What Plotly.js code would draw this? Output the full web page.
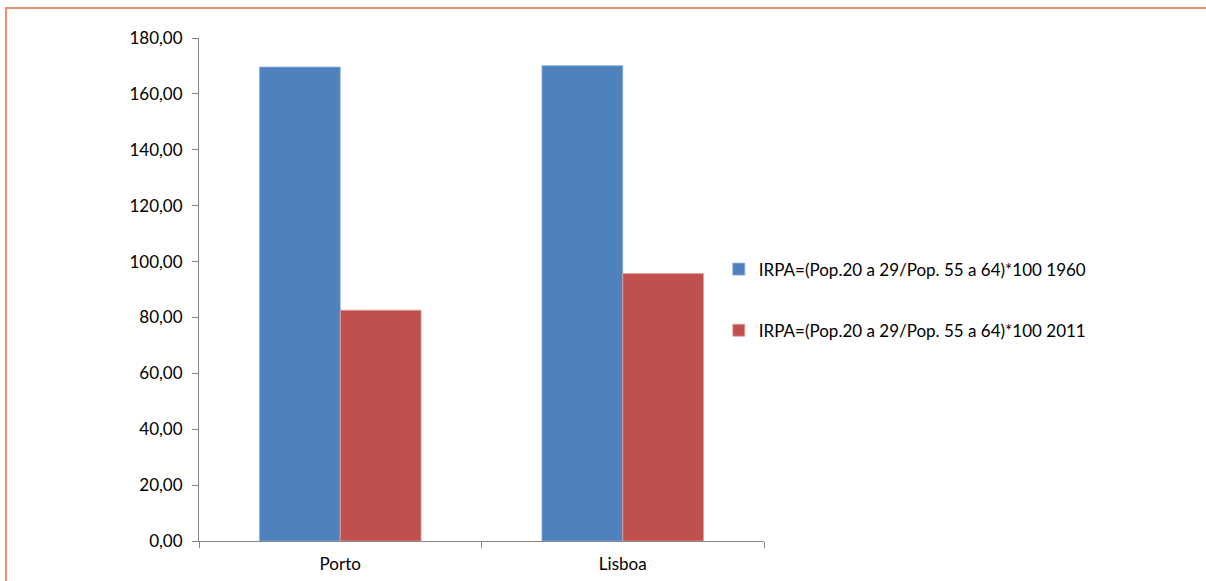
<!DOCTYPE html>
<html>
<head>
<meta charset="utf-8">
<script src="https://cdn.plot.ly/plotly-3.0.1.min.js"></script>
<style>
html,body{margin:0;padding:0;background:#fff;}
#chart{position:absolute;left:0;top:0;width:1206px;height:581px;}
#frame{position:absolute;left:5px;top:7px;width:1210px;height:600px;border:2px solid #EB9170;box-sizing:border-box;pointer-events:none;}
</style>
</head>
<body>
<div id="chart"></div>
<div id="frame"></div>
<script>
var categories = ["Porto", "Lisboa"];
var seriesNames = ["IRPA=(Pop.20 a 29/Pop. 55 a 64)*100 1960", "IRPA=(Pop.20 a 29/Pop. 55 a 64)*100 2011"];
var values1960 = [169.6, 170.1];
var values2011 = [82.6, 95.7];
var yTicks = [0, 20, 40, 60, 80, 100, 120, 140, 160, 180];

var fontFam = "Lato, 'Open Sans', sans-serif";
var traces = [
  {type:"bar", x:categories, y:values1960, name:seriesNames[0], legendgroup:"a",
   marker:{color:"#4F81BD", line:{color:"#8DB0DD", width:0.8}}, hoverinfo:"none"},
  {type:"bar", x:categories, y:values2011, name:seriesNames[1], legendgroup:"b",
   marker:{color:"#C0504D", line:{color:"#E0A09E", width:0.8}}, hoverinfo:"none"}
];
var layout = {
  width:1206, height:581,
  margin:{l:199, r:442, t:38, b:40, pad:0},
  paper_bgcolor:"#fff", plot_bgcolor:"#fff",
  separators:",.",
  barmode:"group", bargap:0.428, bargroupgap:0,
  font:{family:fontFam, size:17, color:"#000"},
  showlegend:true,
  legend:{x:0.92, xanchor:"left", y:0.479, yanchor:"middle", tracegroupgap:36,
          font:{family:fontFam, size:17, color:"#000"}, itemwidth:30, traceorder:"grouped",
          bgcolor:"rgba(0,0,0,0)"},
  xaxis:{type:"category", showline:true, linecolor:"#868686", linewidth:1,
         ticks:"outside", tickson:"boundaries", ticklen:6, tickcolor:"#868686",
         showgrid:false, zeroline:false, tickfont:{size:17}, ticklabelstandoff:8},
  yaxis:{range:[0,180], tickvals:yTicks, tickformat:".2f", showline:true,
         linecolor:"#868686", linewidth:1, ticks:"outside", ticklen:6, tickcolor:"#868686",
         showgrid:false, zeroline:false, tickfont:{size:17}, ticklabelstandoff:6}
};
Plotly.newPlot("chart", traces, layout, {staticPlot:true});
</script>
</body>
</html>
